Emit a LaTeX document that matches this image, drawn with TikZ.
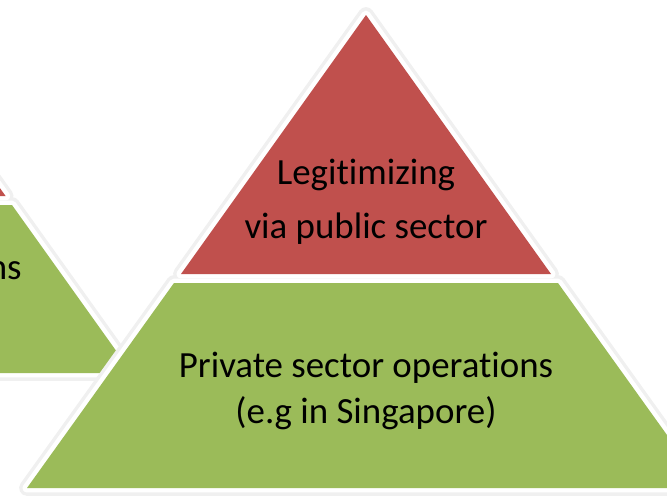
\documentclass[tikz,border=0pt]{standalone}
\usepackage{fontspec}
\setmainfont{Carlito}[Ligatures=NoCommon]
\definecolor{tipred}{HTML}{C0504D}
\definecolor{basegreen}{HTML}{9BBB59}
\tikzset{
  halo/.style={draw=black!6, line width=9pt, line join=round},
  rim/.style={draw=white, line width=5.1pt, line join=round},
  lbl/.style={font=\fontsize{21}{26}\selectfont, align=center}
}
\begin{document}
\begin{tikzpicture}[x=0.02cm, y=-0.02cm]
\useasboundingbox (0,0) rectangle (667,497);
\clip (0,0) rectangle (667,497);

% left pyramid (cut off by the page edge)
\coordinate (LA) at (-165,-43);
\coordinate (LR1) at (5.6,196);   \coordinate (LL1) at (-335.6,196);
\coordinate (LR2) at (12,205);    \coordinate (LL2) at (-342,205);
\coordinate (LR3) at (132,373);   \coordinate (LL3) at (-462,373);
\path[halo] (LA) -- (LR1) -- (LL1) -- cycle;
\path[halo] (LL2) -- (LR2) -- (LR3) -- (LL3) -- cycle;
\path[rim] (LA) -- (LR1) -- (LL1) -- cycle;
\path[rim] (LL2) -- (LR2) -- (LR3) -- (LL3) -- cycle;
\fill[tipred] (LA) -- (LR1) -- (LL1) -- cycle;
\fill[basegreen] (LL2) -- (LR2) -- (LR3) -- (LL3) -- cycle;
\node(LeftText)[lbl, inner sep=0pt, anchor=base east] at (22,279) {ns};

% right pyramid
\coordinate (A) at (366,15);
\coordinate (R1) at (551,274);   \coordinate (L1) at (181,274);
\coordinate (R2) at (558,283);   \coordinate (L2) at (174,283);
\coordinate (R3) at (705,488);   \coordinate (L3) at (27,488);
\path[halo] (A) -- (R1) -- (L1) -- cycle;
\path[halo] (L2) -- (R2) -- (R3) -- (L3) -- cycle;
\path[rim] (A) -- (R1) -- (L1) -- cycle;
\path[rim] (L2) -- (R2) -- (R3) -- (L3) -- cycle;
\fill[tipred] (A) -- (R1) -- (L1) -- cycle;
\fill[basegreen] (L2) -- (R2) -- (R3) -- (L3) -- cycle;

\node(Top)[lbl] at (366,202) {Legitimizing\\[5pt]via public sector};
\node(Base)[lbl] at (366,391) {Private sector operations\\(e.g in Singapore)};
\end{tikzpicture}
\end{document}
